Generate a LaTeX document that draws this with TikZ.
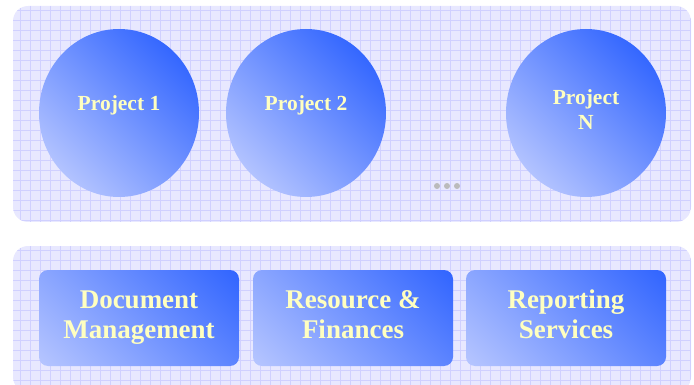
\documentclass[tikz,border=0pt]{standalone}
\usepackage{fontspec}
\setmainfont{Liberation Serif}
\usetikzlibrary{shapes.geometric}
\definecolor{panelfill}{HTML}{E8E8FF}
\definecolor{gridc}{HTML}{D0D0FF}
\definecolor{dark}{HTML}{3366FF}
\definecolor{light}{HTML}{B4C4FF}
\definecolor{txt}{HTML}{FFFFC0}
\definecolor{dotc}{HTML}{BBBBBB}
\tikzset{
  diagshade/.style={path picture={
    \shade[top color=dark, bottom color=light, shading angle=-45]
      ([shift={(-#1,-#1)}]path picture bounding box.center) rectangle
      ([shift={(#1,#1)}]path picture bounding box.center);}},
  proj/.style={ellipse, minimum width=160pt, minimum height=168pt, inner sep=0pt,
    diagshade=84},
  svc/.style={rectangle, rounded corners=9pt, minimum width=200pt, minimum height=96pt, inner sep=0pt,
    diagshade=100},
  projtxt/.style={text=txt, font=\bfseries\fontsize{21.5}{25}\selectfont, anchor=base, inner sep=0pt},
  svctxt/.style={text=txt, font=\bfseries\fontsize{27}{30}\selectfont, anchor=base, inner sep=0pt},
  dotn/.style={circle, fill=dotc, minimum size=6pt, inner sep=0pt}
}
\begin{document}
\begin{tikzpicture}[x=1pt,y=-1pt]
\useasboundingbox (0,0) rectangle (694,385);
% panels
\foreach \ya/\yb in {6/222, 246/392}{
  \fill[panelfill, rounded corners=15pt] (13,\ya) rectangle (691,\yb);
  \begin{scope}
    \clip[rounded corners=15pt] (13,\ya) rectangle (691,\yb);
    \foreach \x in {20,30,...,690} \draw[gridc, line width=0.5pt] (\x,\ya) -- (\x,\yb);
    \foreach \y in {0,10,...,390} \draw[gridc, line width=0.5pt] (13,\y) -- (691,\y);
  \end{scope}
}
\node[proj] (p1) at (119,113) {};
\node[proj] (p2) at (306,113) {};
\node[proj] (pn) at (586,113) {};
\node[projtxt] (t1) at (119,111) {Project 1};
\node[projtxt] (t2) at (306,111) {Project 2};
\node[projtxt] (tn1) at (586,105) {Project};
\node[projtxt] (tn2) at (586,130) {N};
\node[dotn] (d1) at (437,186) {};
\node[dotn] (d2) at (447,186) {};
\node[dotn] (d3) at (457,186) {};
\node[svc] (s1) at (139,318) {};
\node[svc] (s2) at (353,318) {};
\node[svc] (s3) at (566,318) {};
\node[svctxt] (s1a) at (139,308) {Document};
\node[svctxt] (s1b) at (139,338) {Management};
\node[svctxt] (s2a) at (353,308) {Resource \&};
\node[svctxt] (s2b) at (353,338) {Finances};
\node[svctxt] (s3a) at (566,308) {Reporting};
\node[svctxt] (s3b) at (566,338) {Services};
\end{tikzpicture}
\end{document}
